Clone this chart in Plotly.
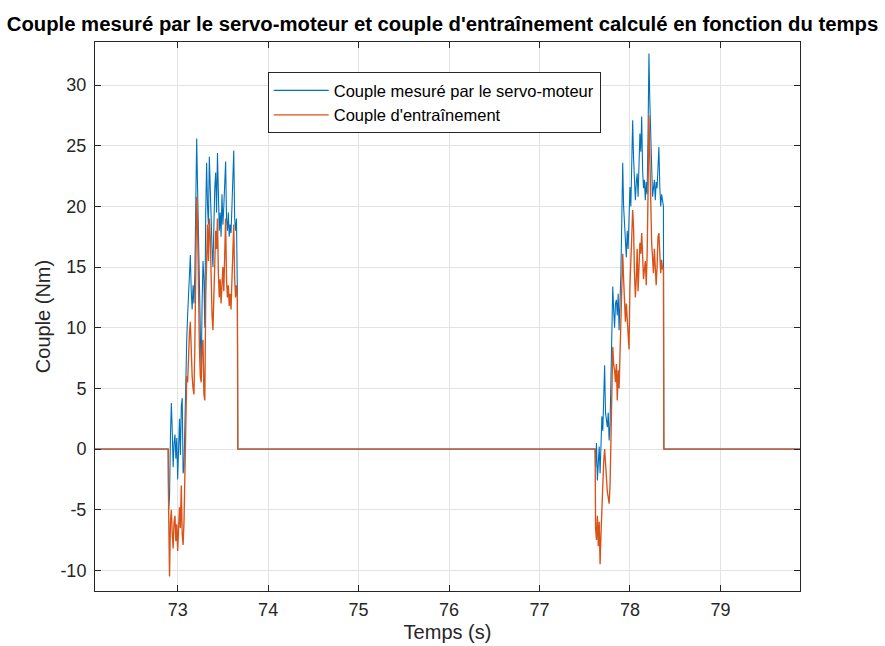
import numpy as np
import plotly.graph_objects as go

# Sampling step of the recorded signals (s)
DT = 0.01

# Time span shown on the x axis
x_min, x_max = 72.086, 79.88

# First motion burst: starts at 72.90 s
burst1_start = 72.90
burst1_measured = [
    -5.0, -4.0, 1.0, 3.8, 1.5, -1.5, 0.5, 1.2, -0.8, 0.9,
    -2.5, 0.5, 2.5, -0.5, 3.5, 4.2, -2.0, -1.5, 2.5, 6.5,
    9.0, 11.0, 12.5, 14.0, 16.0, 13.0, 11.5, 13.5, 12.0, 14.5,
    19.0, 25.6, 21.5, 17.0, 12.5, 7.5, 6.0, 12.0, 15.5, 14.0,
    10.0, 19.5, 23.6, 20.0, 18.5, 24.1, 21.0, 17.5, 16.5, 15.0,
    19.0, 21.5, 22.8, 19.5, 24.4, 20.0, 18.0, 19.5, 17.5, 21.0,
    18.5, 20.0, 22.5, 23.7, 19.0, 18.0, 19.5, 17.5, 18.5, 17.8,
    20.0, 22.0, 24.6, 19.0, 18.0, 19.0, 13.0,
]
burst1_drive = [
    -5.0, -10.5, -6.0, -5.0, -7.0, -8.2, -6.0, -5.5, -7.6, -6.2,
    -8.4, -5.8, -4.8, -6.5, -3.0, -7.0, -7.9, -6.0, -1.0, 3.0,
    6.0, 5.5, 8.0, 9.5, 10.5, 7.0, 6.0, 5.0, 4.5, 8.5,
    14.0, 20.8, 18.5, 12.0, 8.5, 6.0, 5.5, 8.5, 9.0, 4.5,
    4.0, 12.5, 17.0, 18.5, 15.5, 19.0, 17.5, 13.0, 11.0, 9.8,
    13.5, 16.0, 18.0, 16.5, 19.0, 14.5, 12.5, 14.0, 12.0, 13.5,
    15.0, 13.0, 17.5, 19.0, 14.0, 12.5, 13.5, 11.8, 12.8, 11.5,
    14.0, 16.5, 18.5, 14.0, 12.5, 13.5, 12.5,
]

# Second motion burst: starts at 77.62 s
burst2_start = 77.62
burst2_measured = [
    -1.5, 0.5, -2.6, -1.0, 0.2, -2.0, 1.0, 2.7, 1.5, 4.5,
    6.9, 3.0, 2.2, 1.8, 3.0, 0.7, 2.0, 6.0, 11.0, 13.4,
    11.5, 10.0, 12.0, 12.3, 11.0, 12.8, 9.8, 11.5, 14.5, 19.0,
    23.6, 20.0, 18.3, 16.5, 15.8, 18.0, 16.5, 19.0, 21.6, 20.0,
    23.5, 27.1, 24.0, 21.4, 20.5, 22.0, 22.7, 20.8, 23.0, 26.0,
    24.5, 27.4, 23.0, 21.5, 22.2, 20.5, 22.0, 21.0, 26.0, 32.6,
    28.5, 26.0, 22.0, 20.8, 21.5, 22.2, 20.5, 22.0, 21.5, 23.5,
    24.9, 21.6, 20.0, 21.0, 20.5, 20.0,
]
burst2_drive = [
    -6.5, -7.5, -5.5, -8.0, -6.0, -9.5, -7.0, -4.5, -2.5, -1.0,
    0.0, -1.5, -2.0, -3.5, -4.0, -4.5, -3.0, 2.0, 6.0, 8.4,
    7.0, 6.5, 5.5, 7.0, 4.0, 6.5, 5.0, 7.9, 9.5, 12.5,
    16.1, 14.0, 11.7, 10.5, 12.0, 11.0, 9.5, 8.2, 13.5, 15.0,
    17.5, 19.7, 18.3, 14.5, 12.5, 14.0, 16.5, 13.0, 15.5, 17.0,
    16.1, 17.8, 16.0, 14.0, 14.8, 15.5, 13.5, 16.0, 21.0, 27.5,
    24.0, 19.5, 17.0, 15.8, 14.5, 16.5, 14.8, 13.5, 15.0, 17.5,
    17.8, 16.0, 14.5, 15.6, 14.8, 15.0,
]

# Axis ticks
x_ticks = [73, 74, 75, 76, 77, 78, 79]
y_ticks = [-10, -5, 0, 5, 10, 15, 20, 25, 30]
y_tick_labels = ["-10", "-5", "0", "5", "10", "15", "20", "25", "30"]
y_range = [-11.7, 33.55]

title_text = "Couple mesuré par le servo-moteur et couple d'entraînement calculé en fonction du temps"
name_measured = "Couple mesuré par le servo-moteur"
name_drive = "Couple d'entraînement"


def assemble(b1, b2):
    """Zero torque between bursts, recorded samples during each burst."""
    t1 = burst1_start + DT * np.arange(len(b1))
    t2 = burst2_start + DT * np.arange(len(b2))
    t = np.concatenate([[72.0, burst1_start - DT / 2], t1,
                        [t1[-1] + DT / 2, burst2_start - DT / 2], t2,
                        [t2[-1] + DT / 2, 80.0]])
    y = np.concatenate([[0.0, 0.0], b1, [0.0, 0.0], b2, [0.0, 0.0]])
    return t, y


t_m, y_m = assemble(burst1_measured, burst2_measured)
t_d, y_d = assemble(burst1_drive, burst2_drive)

BLUE = "#0072BD"
ORANGE = "#D95319"
AX = "#262626"
GRID = "#E3E3E3"
FONT = "Liberation Sans, Arial, sans-serif"

fig = go.Figure()
fig.add_trace(go.Scatter(x=t_m, y=y_m, mode="lines", name=name_measured,
                         line=dict(color=BLUE, width=1.1)))
fig.add_trace(go.Scatter(x=t_d, y=y_d, mode="lines", name=name_drive,
                         line=dict(color=ORANGE, width=1.35)))

axis_common = dict(
    showline=True, linecolor=AX, linewidth=1, mirror="ticks",
    ticks="inside", ticklen=6, tickcolor=AX, tickwidth=1,
    showgrid=True, gridcolor=GRID, gridwidth=1, zeroline=False,
    automargin=False,
    tickfont=dict(family=FONT, size=18, color=AX),
)

fig.update_layout(
    width=885, height=646,
    margin=dict(l=95, r=85, t=42, b=55, autoexpand=False),
    paper_bgcolor="white", plot_bgcolor="white",
    font=dict(family=FONT, color=AX),
    title=dict(text="<b>" + title_text + "</b>", x=0.5, xanchor="center",
               y=1 - 24 / 646, yanchor="middle", yref="container",
               font=dict(family=FONT, size=20.3, color="black")),
    xaxis=dict(range=[x_min, x_max], tickvals=x_ticks, ticklabelstandoff=2,
               title=dict(text="Temps (s)", font=dict(family=FONT, size=20, color=AX), standoff=6),
               **axis_common),
    yaxis=dict(range=y_range, tickvals=y_ticks, ticktext=y_tick_labels, ticklabelstandoff=4,
               title=dict(text="Couple (Nm)", font=dict(family=FONT, size=20, color=AX), standoff=4),
               **axis_common),
    legend=dict(x=0.245, y=0.945, xanchor="left", yanchor="top",
                bgcolor="white", bordercolor=AX, borderwidth=1,
                font=dict(family=FONT, size=16.5, color="black"),
                itemwidth=55, tracegroupgap=0),
    showlegend=True,
)

fig.write_html("out.html")
